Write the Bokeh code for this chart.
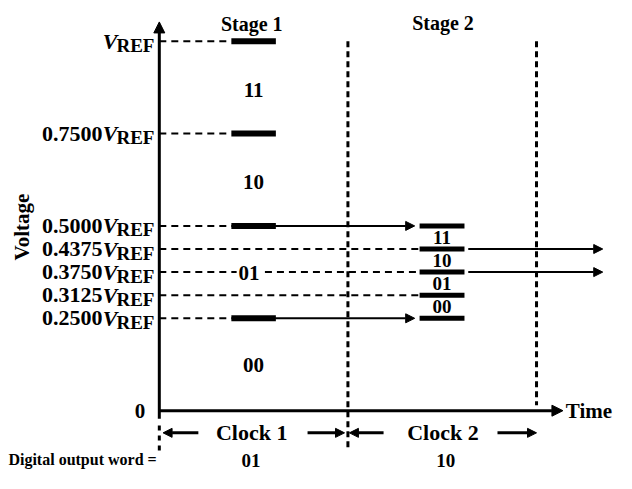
from bokeh.plotting import figure
from bokeh.models import Range1d, Arrow, NormalHead
from bokeh.core.properties import value
from bokeh.embed import file_html
from bokeh.resources import INLINE

# ---- data ----
stage1_levels = [1.0, 0.75, 0.5, 0.25]
stage2_levels = [0.5, 0.4375, 0.375, 0.3125, 0.25]
level_numbers = ["", "0.7500", "0.5000", "0.4375", "0.3750", "0.3125", "0.2500"]
level_values = [1.0, 0.75, 0.5, 0.4375, 0.375, 0.3125, 0.25]
stage1_codes = ["11", "10", "01", "00"]
stage1_code_v = [0.869, 0.62, 0.372, 0.123]
stage2_codes = ["11", "10", "01", "00"]
stage2_code_v = [0.469, 0.406, 0.344, 0.281]
clock_bounds = [0.0, 1.0, 2.0]          # time units
stage_names = ["Stage 1", "Stage 2"]
clock_names = ["Clock 1", "Clock 2"]
output_bits = ["01", "10"]
passed_levels = [0.5, 0.25]              # residue passed from stage 1 to stage 2
out_levels = [0.4375, 0.375]             # stage 2 result

# ---- layout constants (time units / voltage units) ----
S1 = (0.382, 0.618)
S2 = (1.38, 1.618)
FONT = value("Liberation Serif")

p = figure(width=616, height=473, x_range=Range1d(-0.842, 2.424),
           y_range=Range1d(-0.170, 1.110), output_backend="svg",
           toolbar_location=None, min_border=0)
p.axis.visible = False
p.grid.visible = False
p.outline_line_color = None
p.background_fill_color = "white"

def head(size=9):
    return NormalHead(size=size, fill_color="black", line_color="black")

# axes
p.add_layout(Arrow(end=head(11), x_start=0, y_start=-0.022, x_end=0, y_end=1.052,
                   line_width=3, line_color="black"))
p.add_layout(Arrow(end=head(11), x_start=0, y_start=0, x_end=2.14, y_end=0,
                   line_width=3, line_color="black"))
p.segment(x0=[0], y0=[-0.04], x1=[0], y1=[-0.12], line_width=3, line_color="black",
          line_dash="5 5")

# vertical clock boundaries
p.segment(x0=[clock_bounds[1]], y0=[1.0], x1=[clock_bounds[1]], y1=[-0.11],
          line_width=3, line_color="black", line_dash="6 4")
p.segment(x0=[clock_bounds[2]], y0=[1.0], x1=[clock_bounds[2]], y1=[0.015],
          line_width=3, line_color="black", line_dash="6 4")

# dashed reference lines
x0s, y0s, x1s, y1s = [], [], [], []
for v in stage1_levels:
    x0s.append(0); y0s.append(v); x1s.append(S1[0]); y1s.append(v)
for v in [0.4375, 0.3125]:
    x0s.append(0); y0s.append(v); x1s.append(S2[0]); y1s.append(v)
x0s += [0, 0.56]; y0s += [0.375, 0.375]; x1s += [0.41, S2[0]]; y1s += [0.375, 0.375]
p.segment(x0=x0s, y0=y0s, x1=x1s, y1=y1s, line_width=2, line_color="black",
          line_dash="7 5")
p.segment(x0=[S1[0]] * 2, y0=[0.5, 0.25], x1=[0.618] * 2, y1=[0.5, 0.25],
          line_width=2, line_color="black")

# bars
p.segment(x0=[S1[0]] * 4, y0=stage1_levels, x1=[S1[1]] * 4, y1=stage1_levels,
          line_width=6, line_color="black")
p.segment(x0=[S2[0]] * 5, y0=stage2_levels, x1=[S2[1]] * 5, y1=stage2_levels,
          line_width=5, line_color="black")

# transfer arrows
for v in passed_levels:
    p.add_layout(Arrow(end=head(9), x_start=S1[1], y_start=v, x_end=1.354, y_end=v,
                       line_width=2, line_color="black"))
for v in out_levels:
    p.add_layout(Arrow(end=head(9), x_start=1.638, y_start=v, x_end=2.351, y_end=v,
                       line_width=2, line_color="black"))

# clock arrows
yc = -0.06
for xs, xe in [(0.207, 0.02), (0.786, 0.982), (1.189, 1.008), (1.793, 2.0)]:
    p.add_layout(Arrow(end=head(9), x_start=xs, y_start=yc, x_end=xe, y_end=yc,
                       line_width=3, line_color="black"))

# level labels: number + italic V + subscript REF
xl = -0.026
p.text(x=[xl] * len(level_values), y=level_values, text=["REF"] * len(level_values),
       text_align="right", text_baseline="middle", y_offset=4, text_font=FONT,
       text_font_style="bold", text_font_size="19px", text_color="black")
p.text(x=[xl] * len(level_values), y=level_values, text=["V"] * len(level_values),
       text_align="right", text_baseline="middle", x_offset=-37, text_font=FONT,
       text_font_style="bold italic", text_font_size="22px", text_color="black")
p.text(x=[xl] * len(level_values), y=level_values, text=level_numbers,
       text_align="right", text_baseline="middle", x_offset=-52, text_font=FONT,
       text_font_style="bold", text_font_size="22px", text_color="black")
p.text(x=[-0.075], y=[0], text=["0"], text_align="right", text_baseline="middle",
       text_font=FONT, text_font_style="bold", text_font_size="21px")

# Voltage label
p.text(x=[-0.727], y=[0.497], text=["Voltage"], angle=1.5708, text_align="center",
       text_baseline="middle", text_font=FONT, text_font_style="bold",
       text_font_size="21px")

# stage names
p.text(x=[0.49, 1.504], y=[1.047, 1.05], text=stage_names, text_align="center",
       text_baseline="middle", text_font=FONT, text_font_style="bold",
       text_font_size="20px")

# codes
p.text(x=[0.5, 0.5, 0.475, 0.5], y=stage1_code_v, text=stage1_codes,
       text_align="center", text_baseline="middle", text_font=FONT,
       text_font_style="bold", text_font_size="21px")
p.text(x=[1.499] * 4, y=stage2_code_v, text=stage2_codes, text_align="center",
       text_baseline="middle", text_font=FONT, text_font_style="bold",
       text_font_size="19px")

# clocks
p.text(x=[0.49, 1.504], y=[yc, yc], text=clock_names, text_align="center",
       text_baseline="middle", text_font=FONT, text_font_size="22px",
       text_font_style="bold")

# bottom line
p.text(x=[-0.80], y=[-0.131], text=["Digital output word ="], text_align="left",
       text_baseline="middle", text_font=FONT, text_font_style="bold",
       text_font_size="16px")
p.text(x=[0.486, 1.519], y=[-0.134, -0.136], text=output_bits, text_align="center",
       text_baseline="middle", text_font=FONT, text_font_style="bold",
       text_font_size="19px")

p.text(x=[2.155], y=[0], text=["Time"], text_align="left", text_baseline="middle",
       text_font=FONT, text_font_style="bold", text_font_size="21px")

open("out.html", "w").write(file_html(p, INLINE))
